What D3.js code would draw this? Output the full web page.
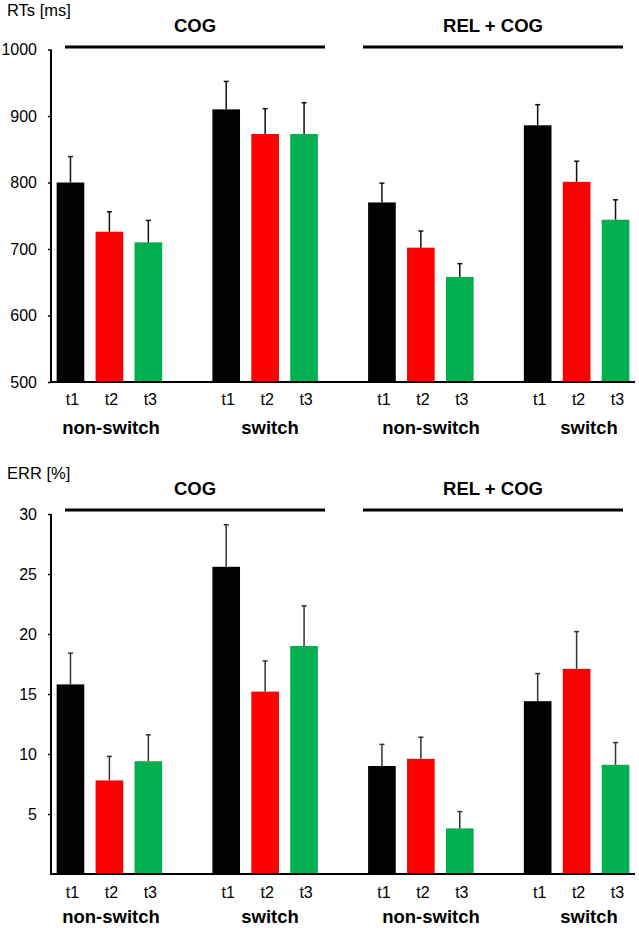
<!DOCTYPE html>
<html>
<head>
<meta charset="utf-8">
<script src="https://cdn.jsdelivr.net/npm/d3@7"></script>
<style>
  body { margin: 0; background: #fff; }
  svg text { font-family: "Liberation Sans", Arial, sans-serif; fill: #000; }
</style>
</head>
<body>
<div id="chart"></div>
<script>
// data
var conditions = ['COG', 'REL + COG'];
var tasks = ['non-switch', 'switch', 'non-switch', 'switch'];
var times = ['t1', 't2', 't3'];
var colors = ['#000000', '#ff0000', '#00b050'];

var rtMean = [800, 726, 710, 910, 873, 873, 770, 702, 658, 886, 801, 744];
var rtErr  = [39, 30, 33, 42, 38, 47, 29, 25, 20, 31, 31, 30];
var rtTicks = [500, 600, 700, 800, 900, 1000];

var errMean = [15.8, 7.8, 9.4, 25.6, 15.2, 19.0, 9.0, 9.6, 3.8, 14.4, 17.1, 9.1];
var errErr  = [2.6, 2.0, 2.2, 3.5, 2.55, 3.35, 1.8, 1.8, 1.4, 2.3, 3.1, 1.85];
var errTicks = [5, 10, 15, 20, 25, 30];

var width = 639, height = 928;

var svg = d3.select('#chart')
    .append('svg')
    .attr('width', width)
    .attr('height', height);

// 15 slots: 3 bars + 1 gap per task block
var slots = d3.range(15);
var x = d3.scaleBand()
    .domain(slots)
    .range([51, 635])
    .paddingInner(0.29)
    .paddingOuter(0.145);

function slotOf(i) {
    return Math.floor(i / 3) * 4 + (i % 3);
}

function drawPanel(p) {
    var g = svg.append('g');

    var y = d3.scaleLinear()
        .domain(p.domain)
        .range([p.bottom, p.top]);

    // unit label
    g.append('text')
        .attr('x', 7)
        .attr('y', p.labelY)
        .style('font-size', '16.5px')
        .text(p.label);

    // condition headers and lines
    conditions.forEach(function(c, k) {
        var cx = [195, 493][k];
        g.append('text')
            .attr('x', cx)
            .attr('y', p.headY)
            .attr('text-anchor', 'middle')
            .style('font-size', '18.5px')
            .style('font-weight', 'bold')
            .text(c);
        g.append('line')
            .attr('x1', cx - 130)
            .attr('x2', cx + 130)
            .attr('y1', p.lineY)
            .attr('y2', p.lineY)
            .style('stroke', '#000')
            .style('stroke-width', 3);
    });

    // y axis
    var axis = g.append('g')
        .attr('transform', 'translate(51,0)')
        .call(d3.axisLeft(y).tickValues(p.ticks).tickFormat(d3.format('d'))
            .tickSize(3).tickSizeOuter(0).tickPadding(11));
    axis.select('.domain')
        .attr('d', 'M0,' + p.top + 'V' + p.bottom)
        .style('stroke-width', 2);
    axis.selectAll('.tick line').style('stroke-width', 1.5);
    axis.selectAll('.tick text')
        .style('font-size', '16px')
        .style('font-family', '"Liberation Sans", Arial, sans-serif');

    // bars
    var bars = p.mean.map(function(v, i) {
        return { value: v, err: p.err[i], slot: slotOf(i), color: colors[i % 3], time: times[i % 3] };
    });

    g.selectAll('.bar')
        .data(bars)
        .enter().append('rect')
        .attr('class', 'bar')
        .attr('x', function(d) { return x(d.slot); })
        .attr('y', function(d) { return y(d.value); })
        .attr('width', x.bandwidth())
        .attr('height', function(d) { return p.bottom - y(d.value); })
        .style('fill', function(d) { return d.color; });

    // error bars (upper only)
    g.selectAll('.err')
        .data(bars)
        .enter().append('line')
        .attr('class', 'err')
        .attr('x1', function(d) { return x(d.slot) + x.bandwidth() / 2; })
        .attr('x2', function(d) { return x(d.slot) + x.bandwidth() / 2; })
        .attr('y1', function(d) { return y(d.value); })
        .attr('y2', function(d) { return y(d.value + d.err); })
        .style('stroke', p.errColor)
        .style('stroke-width', 1.5);

    g.selectAll('.cap')
        .data(bars)
        .enter().append('line')
        .attr('class', 'cap')
        .attr('x1', function(d) { return x(d.slot) + x.bandwidth() / 2 - 2.5; })
        .attr('x2', function(d) { return x(d.slot) + x.bandwidth() / 2 + 2.5; })
        .attr('y1', function(d) { return y(d.value + d.err); })
        .attr('y2', function(d) { return y(d.value + d.err); })
        .style('stroke', p.errColor)
        .style('stroke-width', 1.5);

    // x baseline
    g.append('line')
        .attr('x1', 50)
        .attr('x2', 635)
        .attr('y1', p.bottom)
        .attr('y2', p.bottom)
        .style('stroke', '#000')
        .style('stroke-width', 2);

    // time labels
    g.selectAll('.tlab')
        .data(bars)
        .enter().append('text')
        .attr('class', 'tlab')
        .attr('x', function(d) { return x(d.slot) + x.bandwidth() / 2 + 2; })
        .attr('y', p.tY)
        .attr('text-anchor', 'middle')
        .style('font-size', '16px')
        .text(function(d) { return d.time; });

    // task labels
    var taskX = [111, 270, 431, 589];
    tasks.forEach(function(t, k) {
        g.append('text')
            .attr('x', taskX[k])
            .attr('y', p.taskY)
            .attr('text-anchor', 'middle')
            .style('font-size', '18.5px')
            .style('font-weight', 'bold')
            .text(t);
    });
}

drawPanel({
    label: 'RTs [ms]', labelY: 16, headY: 32, lineY: 47,
    top: 49.5, bottom: 382, domain: [500, 1000], ticks: rtTicks,
    mean: rtMean, err: rtErr, errColor: '#111',
    tY: 405, taskY: 434
});

drawPanel({
    label: 'ERR [%]', labelY: 479, headY: 495, lineY: 510,
    top: 514, bottom: 874, domain: [0, 30], ticks: errTicks,
    mean: errMean, err: errErr, errColor: '#333',
    tY: 898, taskY: 923
});
</script>
</body>
</html>
